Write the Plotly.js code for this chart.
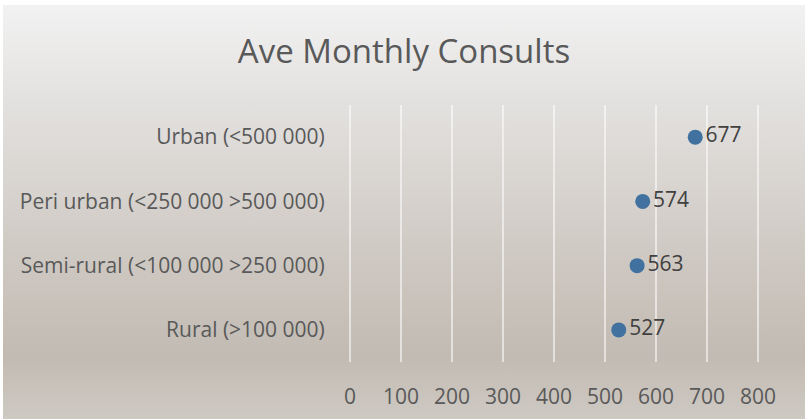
<!DOCTYPE html>
<html>
<head>
<meta charset="utf-8">
<script src="https://cdn.plot.ly/plotly-3.0.1.min.js"></script>
<style>
  html, body { margin: 0; padding: 0; background: #ffffff; }
  #chart {
    position: absolute; left: 3px; top: 5px; width: 802px; height: 414px;
    background: linear-gradient(to bottom, #f2f2f2 0%, #e2e0de 25%, #cfc9c3 60%, #c2bbb3 85%, #cec9c3 100%);
  }
</style>
</head>
<body>
<div id="chart"></div>
<script>
// categories (top to bottom) and average monthly consults
const categories = ['Urban (<500 000)', 'Peri urban (<250 000 >500 000)', 'Semi-rural (<100 000 >250 000)', 'Rural (>100 000)'];
const consults = [677, 574, 563, 527];
const xTicks = [0, 100, 200, 300, 400, 500, 600, 700, 800];

const fontFamily = '"Open Sans", Lato, sans-serif';
const gridColor = 'rgba(255,255,255,0.55)';

const trace = {
  x: consults,
  y: categories,
  type: 'scatter',
  mode: 'markers+text',
  text: consults.map(String),
  textposition: 'middle right',
  textfont: {family: fontFamily, size: 21, color: '#404040'},
  marker: {size: 15, color: '#41729f'},
  cliponaxis: false,
  hoverinfo: 'none'
};

const layout = {
  width: 802,
  height: 414,
  margin: {l: 344, r: 44, t: 100, b: 57},
  paper_bgcolor: 'rgba(0,0,0,0)',
  plot_bgcolor: 'rgba(0,0,0,0)',
  showlegend: false,
  font: {family: fontFamily, color: '#595959'},
  title: {
    text: 'Ave Monthly Consults',
    font: {size: 33, color: '#595959'},
    x: 0.5, xanchor: 'center',
    y: 0.887, yanchor: 'middle'
  },
  xaxis: {
    range: [-6, 806],
    tickvals: xTicks,
    ticktext: xTicks.map(String),
    showgrid: true,
    gridcolor: gridColor,
    gridwidth: 1.5,
    zeroline: true,
    zerolinecolor: gridColor,
    zerolinewidth: 1.5,
    showline: false,
    ticks: 'outside',
    ticklen: 16,
    tickcolor: 'rgba(0,0,0,0)',
    tickfont: {size: 21, color: '#595959'},
    fixedrange: true
  },
  yaxis: {
    type: 'category',
    categoryorder: 'array',
    categoryarray: categories.slice().reverse(),
    showgrid: false,
    zeroline: false,
    showline: false,
    ticks: 'outside',
    ticklen: 17,
    tickcolor: 'rgba(0,0,0,0)',
    tickfont: {size: 21, color: '#595959'},
    range: [-0.5, 3.5],
    fixedrange: true
  }
};

Plotly.newPlot('chart', [trace], layout, {displayModeBar: false, staticPlot: true});
</script>
</body>
</html>
